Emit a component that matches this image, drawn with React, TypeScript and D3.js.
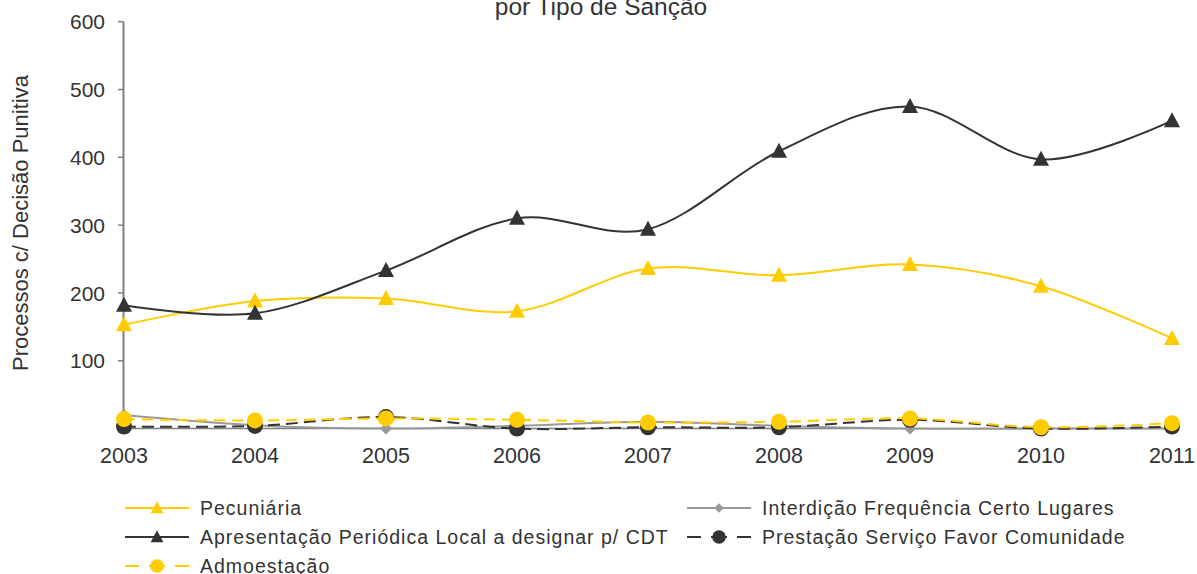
import React from "react";
import * as d3 from "d3";

const years = ["2003", "2004", "2005", "2006", "2007", "2008", "2009", "2010", "2011"];
const pecuniaria = [153, 188, 192, 173, 236, 226, 242, 210, 133];
const interdicao = [20, 5, 0, 4, 10, 4, 0, 0, 0];
const apresentacao = [182, 170, 233, 310, 294, 409, 475, 397, 454];
const prestacao = [3, 4, 17, 0, 2, 2, 13, 0, 3];
const admoestacao = [14, 12, 15, 13, 9, 10, 15, 2, 8];
const yTicks = [100, 200, 300, 400, 500, 600];

const YELLOW = "#FFCC00";
const DARK = "#333333";
const GRAY = "#999999";
const AXIS = "#808080";
const FONT = "Liberation Sans, Arial, sans-serif";

type Marker = "triangle" | "diamond" | "circle";
interface Series {
  name: string;
  values: number[];
  color: string;
  markerColor: string;
  marker: Marker;
  dash?: string;
  width: number;
}

const series: Series[] = [
  { name: "Pecuniária", values: pecuniaria, color: YELLOW, markerColor: YELLOW, marker: "triangle", width: 2 },
  { name: "Interdição Frequência Certo Lugares", values: interdicao, color: GRAY, markerColor: GRAY, marker: "diamond", width: 2 },
  { name: "Apresentação Periódica Local a designar p/ CDT", values: apresentacao, color: DARK, markerColor: DARK, marker: "triangle", width: 2 },
  { name: "Prestação Serviço Favor Comunidade", values: prestacao, color: DARK, markerColor: DARK, marker: "circle", dash: "12,6", width: 2 },
  { name: "Admoestação", values: admoestacao, color: YELLOW, markerColor: YELLOW, marker: "circle", dash: "11,7", width: 2 },
];

function markerPath(m: Marker): string {
  if (m === "triangle") return "M0,-8.5L8,6.5L-8,6.5Z";
  if (m === "diamond") return "M0,-6L6,0L0,6L-6,0Z";
  return d3.symbol(d3.symbolCircle, Math.PI * 8 * 8)() || "";
}

export default function App() {
  const W = 1197;
  const H = 574;
  const x = d3.scalePoint<string>().domain(years).range([124, 1172]);
  const y = d3.scaleLinear().domain([0, 600]).range([428.6, 21.7]);
  const line = d3
    .line<number>()
    .x((_, i) => x(years[i]) as number)
    .y((v) => y(v))
    .curve(d3.curveCardinal.tension(0));

  const legendItems = [
    { s: series[0], lx: 125, ly: 508 },
    { s: series[1], lx: 687, ly: 508 },
    { s: series[2], lx: 125, ly: 537 },
    { s: series[3], lx: 687, ly: 537 },
    { s: series[4], lx: 125, ly: 566 },
  ];

  return (
    <svg width={W} height={H} style={{ position: "absolute", left: 0, top: 0, background: "#fff" }}>
      <text x={601} y={15} textAnchor="middle" fontFamily={FONT} fontSize={24.5} fill={DARK}>
        por Tipo de Sanção
      </text>
      <text
        transform={`translate(28,${223}) rotate(-90)`}
        textAnchor="middle"
        fontFamily={FONT}
        fontSize={22}
        fill={DARK}
      >
        Processos c/ Decisão Punitiva
      </text>
      {/* axes */}
      <line x1={123.5} x2={123.5} y1={y(600)} y2={y(0)} stroke={AXIS} strokeWidth={2} />
      <line x1={123.5} x2={1172} y1={y(0)} y2={y(0)} stroke={AXIS} strokeWidth={1.5} />
      {yTicks.map((t) => (
        <g key={t}>
          <line x1={118} x2={123.5} y1={y(t)} y2={y(t)} stroke={AXIS} strokeWidth={1.5} />
          <text x={105} y={y(t)} dy="0.36em" textAnchor="end" fontFamily={FONT} fontSize={21} fill={DARK}>
            {t}
          </text>
        </g>
      ))}
      {years.map((yr) => (
        <text key={yr} x={x(yr)} y={463} textAnchor="middle" fontFamily={FONT} fontSize={21.5} fill={DARK}>
          {yr}
        </text>
      ))}
      {/* lines */}
      {series.map((s) => (
        <path
          key={s.name + "l"}
          d={line(s.values) || ""}
          fill="none"
          stroke={s.color}
          strokeWidth={s.width}
          strokeDasharray={s.dash}
        />
      ))}
      {/* markers */}
      {series.map((s) => (
        <g key={s.name + "m"}>
          {s.values.map((v, i) => (
            <path
              key={i}
              d={markerPath(s.marker)}
              transform={`translate(${x(years[i])},${y(v)})`}
              fill={s.markerColor}
            />
          ))}
        </g>
      ))}
      {/* legend */}
      {legendItems.map(({ s, lx, ly }) => (
        <g key={s.name + "lg"}>
          {s.dash ? (
            <>
              <line x1={lx} x2={lx + 14} y1={ly} y2={ly} stroke={s.color} strokeWidth={2} />
              <line x1={lx + 24} x2={lx + 40} y1={ly} y2={ly} stroke={s.color} strokeWidth={2} />
              <line x1={lx + 50} x2={lx + 64} y1={ly} y2={ly} stroke={s.color} strokeWidth={2} />
            </>
          ) : (
            <line x1={lx} x2={lx + 64} y1={ly} y2={ly} stroke={s.color} strokeWidth={2} />
          )}
          <path
            d={markerPath(s.marker)}
            transform={`translate(${lx + 32},${ly}) scale(${s.marker === "circle" ? 0.85 : 0.8})`}
            fill={s.markerColor}
          />
          <text
            x={lx + 75}
            y={ly}
            dy="0.36em"
            fontFamily={FONT}
            fontSize={19.5}
            letterSpacing={1}
            fill={DARK}
          >
            {s.name}
          </text>
        </g>
      ))}
    </svg>
  );
}
